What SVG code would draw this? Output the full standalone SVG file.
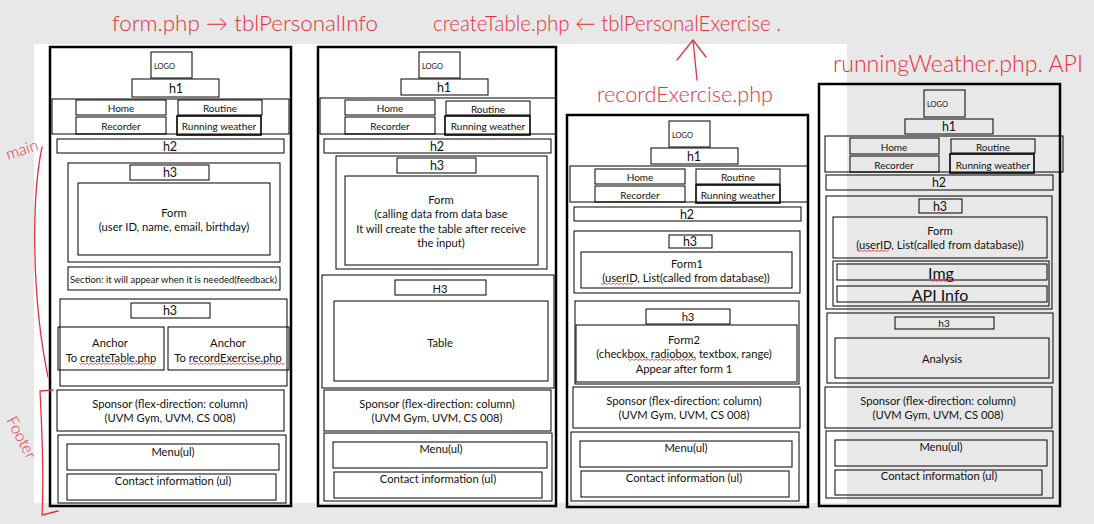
<svg xmlns="http://www.w3.org/2000/svg" width="1094" height="524" viewBox="0 0 1094 524">
<style>
.o{fill:none;stroke:#000;stroke-width:2.5}
.b{fill:none;stroke:#000;stroke-width:1}
.bb{fill:none;stroke:#000;stroke-width:1.6}
text{font-family:Lato,"Open Sans","Liberation Sans",sans-serif;fill:#111;text-anchor:middle;dominant-baseline:central}
.s9{font-size:10px}
.s10{font-size:11.2px}
.s11{font-size:12.5px}
.s14{font-size:16px}
.lg{font-size:7.5px;text-anchor:start}
.hw{font-family:Lato,"DejaVu Sans",sans-serif;font-weight:300;fill:#e8303c;text-anchor:start;dominant-baseline:alphabetic}
.rl{fill:none;stroke:#e8303c;stroke-width:1.3;stroke-linecap:round;stroke-linejoin:round}
.wv{fill:none;stroke:#e8303c;stroke-width:0.8}
</style>
<rect width="1094" height="524" fill="#e8e8e8"/>
<rect x="34" y="44" width="813" height="459" fill="#ffffff"/>

<!-- Column 1: form.php -->
<g id="page-form">
<rect class="o" x="50" y="47" width="241" height="459"/>
<g id="c1-logo"><rect class="b" x="151" y="52" width="41" height="26"/><text class="lg" x="154" y="66">LOGO</text></g>
<g id="c1-h1"><rect class="b" x="132" y="79" width="87" height="18"/><text class="s11" x="176" y="88">h1</text></g>
<g id="c1-nav"><rect class="b" x="52" y="99" width="237" height="35"/>
<rect class="b" x="76" y="100" width="90" height="15"/><text class="s9" x="121" y="108">Home</text>
<rect class="b" x="178" y="100" width="84" height="15"/><text class="s9" x="220" y="108">Routine</text>
<rect class="b" x="76" y="117" width="90" height="17"/><text class="s9" x="121" y="126">Recorder</text>
<rect class="bb" x="177" y="116" width="84" height="19"/><text class="s9" x="219" y="126">Running weather</text></g>
<g id="c1-h2"><rect class="b" x="57" y="139" width="227" height="14"/><text class="s11" x="170" y="146">h2</text></g>
<g id="c1-section1"><rect class="b" x="68" y="163" width="212" height="99"/>
<rect class="b" x="130" y="165" width="79" height="15"/><text class="s11" x="170" y="172.5">h3</text>
<rect class="b" x="78" y="183" width="192" height="72"/><text class="s10" x="174" y="212">Form</text><text class="s10" x="174" y="226">(user ID, name, email, birthday)</text></g>
<g id="c1-feedback"><rect class="b" x="68" y="267" width="212" height="23"/><text class="s9" x="173.5" y="279" textLength="207" lengthAdjust="spacingAndGlyphs">Section: it will appear when it is needed(feedback)</text></g>
<g id="c1-anchors"><rect class="b" x="60" y="299" width="227" height="87"/>
<rect class="b" x="131" y="303" width="79" height="15"/><text class="s11" x="170" y="310.5">h3</text>
<rect class="b" x="58" y="327" width="106" height="43"/><text class="s10" x="110" y="342">Anchor</text><text class="s10" x="111" y="357">To createTable.php</text>
<path class="wv" d="M79,363 l2,1.5 l2,-1.5 l2,1.5 l2,-1.5 l2,1.5 l2,-1.5 l2,1.5 l2,-1.5 l2,1.5 l2,-1.5 l2,1.5 l2,-1.5 l2,1.5 l2,-1.5 l2,1.5 l2,-1.5 l2,1.5 l2,-1.5 l2,1.5 l2,-1.5 l2,1.5 l2,-1.5 l2,1.5 l2,-1.5 l2,1.5 l2,-1.5 l2,1.5 l2,-1.5 l2,1.5 l2,-1.5 l2,1.5 l2,-1.5 l2,1.5 l2,-1.5 l2,1.5 l2,-1.5 l2,1.5 l2,-1.5"/>
<rect class="b" x="168" y="327" width="121" height="43"/><text class="s10" x="228" y="342">Anchor</text><text class="s10" x="228" y="357">To recordExercise.php</text>
<path class="wv" d="M189,363 l2,1.5 l2,-1.5 l2,1.5 l2,-1.5 l2,1.5 l2,-1.5 l2,1.5 l2,-1.5 l2,1.5 l2,-1.5 l2,1.5 l2,-1.5 l2,1.5 l2,-1.5 l2,1.5 l2,-1.5 l2,1.5 l2,-1.5 l2,1.5 l2,-1.5 l2,1.5 l2,-1.5 l2,1.5 l2,-1.5 l2,1.5 l2,-1.5 l2,1.5 l2,-1.5 l2,1.5 l2,-1.5 l2,1.5 l2,-1.5 l2,1.5 l2,-1.5 l2,1.5 l2,-1.5 l2,1.5 l2,-1.5 l2,1.5 l2,-1.5 l2,1.5 l2,-1.5 l2,1.5 l2,-1.5 l2,1.5 l2,-1.5 l2,1.5 l2,-1.5"/></g>
<g id="c1-sponsor"><rect class="b" x="57" y="390" width="227" height="41"/><text class="s10" x="170" y="403">Sponsor (flex-direction: column)</text><text class="s10" x="170" y="417">(UVM Gym, UVM, CS 008)</text></g>
<g id="c1-footer"><rect class="b" x="58" y="435" width="228" height="68"/>
<rect class="b" x="67" y="444" width="212" height="26"/><text class="s10" x="173" y="451">Menu(ul)</text>
<rect class="b" x="67" y="474" width="209" height="26"/><text class="s10" x="173" y="480">Contact information (ul)</text></g>
</g>

<!-- Column 2: createTable.php -->
<g id="page-createTable">
<rect class="o" x="318" y="47" width="238" height="459"/>
<g id="c2-logo"><rect class="b" x="419" y="52" width="41" height="26"/><text class="lg" x="422" y="66">LOGO</text></g>
<g id="c2-h1"><rect class="b" x="401" y="79" width="87" height="16"/><text class="s11" x="444" y="87">h1</text></g>
<g id="c2-nav"><rect class="b" x="320" y="98" width="236" height="36"/>
<rect class="b" x="345" y="100" width="90" height="15"/><text class="s9" x="390" y="108">Home</text>
<rect class="b" x="446" y="101" width="84" height="14"/><text class="s9" x="488" y="109">Routine</text>
<rect class="b" x="345" y="117" width="90" height="17"/><text class="s9" x="390" y="126">Recorder</text>
<rect class="bb" x="445" y="116" width="85" height="19"/><text class="s9" x="488" y="126">Running weather</text></g>
<g id="c2-h2"><rect class="b" x="324" y="139" width="227" height="14"/><text class="s11" x="437" y="146">h2</text></g>
<g id="c2-section1"><rect class="b" x="336" y="156" width="211" height="113"/>
<rect class="b" x="397" y="158" width="79" height="15"/><text class="s11" x="437" y="165.5">h3</text>
<rect class="b" x="345" y="176" width="193" height="89"/>
<text class="s10" x="441" y="199">Form</text><text class="s10" x="441" y="213">(calling data from data base</text><text class="s10" x="441" y="228">It will create the table after receive</text><text class="s10" x="441" y="242">the input)</text></g>
<g id="c2-section2"><rect class="b" x="322" y="275" width="232" height="113"/>
<rect class="b" x="395" y="280" width="91" height="15"/><text class="s10" x="440" y="288">H3</text>
<rect class="b" x="334" y="301" width="214" height="80"/><text class="s10" x="440" y="342">Table</text></g>
<g id="c2-sponsor"><rect class="b" x="324" y="390" width="227" height="41"/><text class="s10" x="437" y="403">Sponsor (flex-direction: column)</text><text class="s10" x="437" y="417">(UVM Gym, UVM, CS 008)</text></g>
<g id="c2-footer"><rect class="b" x="324" y="433" width="228" height="68"/>
<rect class="b" x="333" y="442" width="214" height="26"/><text class="s10" x="441" y="448.5">Menu(ul)</text>
<rect class="b" x="334" y="472" width="208" height="26"/><text class="s10" x="438" y="478">Contact information (ul)</text></g>
</g>

<!-- Column 3: recordExercise.php -->
<g id="page-recordExercise">
<rect class="o" x="567" y="115" width="241" height="392"/>
<g id="c3-logo"><rect class="b" x="669" y="121" width="41" height="26"/><text class="lg" x="672" y="135">LOGO</text></g>
<g id="c3-h1"><rect class="b" x="651" y="148" width="87" height="16"/><text class="s11" x="694" y="156">h1</text></g>
<g id="c3-nav"><rect class="b" x="570" y="166" width="238" height="36"/>
<rect class="b" x="595" y="169" width="90" height="15"/><text class="s9" x="640" y="177">Home</text>
<rect class="b" x="696" y="169" width="84" height="15"/><text class="s9" x="738" y="177">Routine</text>
<rect class="b" x="595" y="186" width="90" height="16"/><text class="s9" x="640" y="195">Recorder</text>
<rect class="bb" x="696" y="185" width="84" height="18"/><text class="s9" x="738" y="195">Running weather</text></g>
<g id="c3-h2"><rect class="b" x="574" y="207" width="227" height="14"/><text class="s11" x="687" y="214">h2</text></g>
<g id="c3-section1"><rect class="b" x="574" y="231" width="226" height="62"/>
<rect class="b" x="669" y="235" width="43" height="13"/><text class="s11" x="690" y="241.5">h3</text>
<rect class="b" x="581" y="252" width="211" height="36"/><text class="s10" x="687" y="263">Form1</text><text class="s10" x="686" y="277">(userID, List(called from database))</text>
<path class="wv" d="M601,283 l2,1.5 l2,-1.5 l2,1.5 l2,-1.5 l2,1.5 l2,-1.5 l2,1.5 l2,-1.5 l2,1.5 l2,-1.5 l2,1.5 l2,-1.5 l2,1.5 l2,-1.5 l2,1.5 l2,-1.5"/></g>
<g id="c3-section2"><rect class="b" x="575" y="301" width="224" height="83"/>
<rect class="b" x="646" y="309" width="84" height="15"/><text class="s10" x="688" y="316">h3</text>
<rect class="b" x="576" y="325" width="221" height="57"/><text class="s10" x="684" y="339">Form2</text><text class="s10" x="684" y="353">(checkbox, radiobox, textbox, range)</text><text class="s10" x="684" y="368">Appear after form 1</text>
<path class="wv" d="M628,359 l2,1.5 l2,-1.5 l2,1.5 l2,-1.5 l2,1.5 l2,-1.5 l2,1.5 l2,-1.5 l2,1.5 l2,-1.5 l2,1.5 l2,-1.5 l2,1.5 l2,-1.5 l2,1.5 l2,-1.5 l2,1.5 l2,-1.5 l2,1.5 l2,-1.5 l2,1.5 l2,-1.5 l2,1.5 l2,-1.5 l2,1.5 l2,-1.5 l2,1.5 l2,-1.5 l2,1.5 l2,-1.5 l2,1.5 l2,-1.5 l2,1.5 l2,-1.5"/></g>
<g id="c3-sponsor"><rect class="b" x="573" y="387" width="227" height="41"/><text class="s10" x="684" y="400">Sponsor (flex-direction: column)</text><text class="s10" x="684" y="414">(UVM Gym, UVM, CS 008)</text></g>
<g id="c3-footer"><rect class="b" x="571" y="432" width="228" height="69"/>
<rect class="b" x="580" y="441" width="212" height="26"/><text class="s10" x="686" y="447">Menu(ul)</text>
<rect class="b" x="581" y="471" width="208" height="26"/><text class="s10" x="684" y="477">Contact information (ul)</text></g>
</g>

<!-- Column 4: runningWeather.php -->
<g id="page-runningWeather">
<rect class="o" x="819" y="84" width="241" height="422"/>
<g id="c4-logo"><rect class="b" x="924" y="90" width="41" height="27"/><text class="lg" x="927" y="104">LOGO</text></g>
<g id="c4-h1"><rect class="b" x="905" y="119" width="88" height="15"/><text class="s11" x="949" y="126.5">h1</text></g>
<g id="c4-nav"><rect class="b" x="825" y="136" width="238" height="36"/>
<rect class="b" x="850" y="138" width="89" height="16"/><text class="s9" x="894" y="147">Home</text>
<rect class="b" x="951" y="139" width="84" height="14"/><text class="s9" x="993" y="147">Routine</text>
<rect class="b" x="850" y="156" width="89" height="16"/><text class="s9" x="894" y="165">Recorder</text>
<rect class="bb" x="950" y="154" width="84" height="19"/><text class="s9" x="993" y="165">Running weather</text></g>
<g id="c4-h2"><rect class="b" x="826" y="175" width="227" height="15"/><text class="s11" x="939" y="182.5">h2</text></g>
<g id="c4-section1"><rect class="b" x="826" y="196" width="226" height="113"/>
<rect class="b" x="919" y="199" width="43" height="14"/><text class="s11" x="940" y="206">h3</text>
<rect class="b" x="833" y="217" width="214" height="41"/><text class="s10" x="940" y="230">Form</text><text class="s10" x="940" y="244">(userID, List(called from database))</text>
<path class="wv" d="M857,250 l2,1.5 l2,-1.5 l2,1.5 l2,-1.5 l2,1.5 l2,-1.5 l2,1.5 l2,-1.5 l2,1.5 l2,-1.5 l2,1.5 l2,-1.5 l2,1.5 l2,-1.5 l2,1.5 l2,-1.5"/>
<rect class="b" x="833" y="261" width="216" height="45"/>
<rect class="b" x="837" y="264" width="210" height="16"/><text class="s14" x="941" y="272">Img</text>
<path class="wv" d="M931,280 l2,1.5 l2,-1.5 l2,1.5 l2,-1.5 l2,1.5 l2,-1.5 l2,1.5 l2,-1.5 l2,1.5 l2,-1.5 l2,1.5 l2,-1.5"/>
<rect class="b" x="837" y="286" width="210" height="16"/><text class="s14" x="940" y="294">API Info</text></g>
<g id="c4-section2"><rect class="b" x="827" y="313" width="226" height="70"/>
<rect class="b" x="895" y="317" width="99" height="12"/><text class="s9" x="944" y="323">h3</text>
<rect class="b" x="835" y="338" width="214" height="40"/><text class="s10" x="942" y="358">Analysis</text></g>
<g id="c4-sponsor"><rect class="b" x="825" y="387" width="227" height="41"/><text class="s10" x="938" y="400">Sponsor (flex-direction: column)</text><text class="s10" x="938" y="414">(UVM Gym, UVM, CS 008)</text></g>
<g id="c4-footer"><rect class="b" x="826" y="431" width="227" height="67"/>
<rect class="b" x="835" y="440" width="212" height="26"/><text class="s10" x="941" y="446.5">Menu(ul)</text>
<rect class="b" x="835" y="470" width="207" height="25"/><text class="s10" x="939" y="475">Contact information (ul)</text></g>
</g>

<!-- Handwritten annotations -->
<g id="annotations">
<text class="hw" x="112" y="31" font-size="22" textLength="266" lengthAdjust="spacingAndGlyphs">form.php → tblPersonalInfo</text>
<text class="hw" x="433" y="31" font-size="22" textLength="348" lengthAdjust="spacingAndGlyphs">createTable.php ← tblPersonalExercise .</text>
<text class="hw" x="597" y="102" font-size="22" textLength="176" lengthAdjust="spacingAndGlyphs">recordExercise.php</text>
<text class="hw" x="833" y="72" font-size="24" textLength="250" lengthAdjust="spacingAndGlyphs">runningWeather.php. API</text>
<text class="hw" x="8" y="160" font-size="16" transform="rotate(-18 8 160)">main</text>
<text class="hw" x="6" y="420" font-size="16" transform="rotate(62 6 420)">Footer</text>
</g>
<g id="connectors">
<path class="rl" d="M697,80 L693,40 M693,40 L677,60 M693,40 L706,57"/>
<path class="rl" d="M42,147 C31,200 32,300 48,377"/>
<path class="rl" d="M53,390 L40,391 C42,430 44,480 42,515 L58,511"/>
</g>
</svg>
